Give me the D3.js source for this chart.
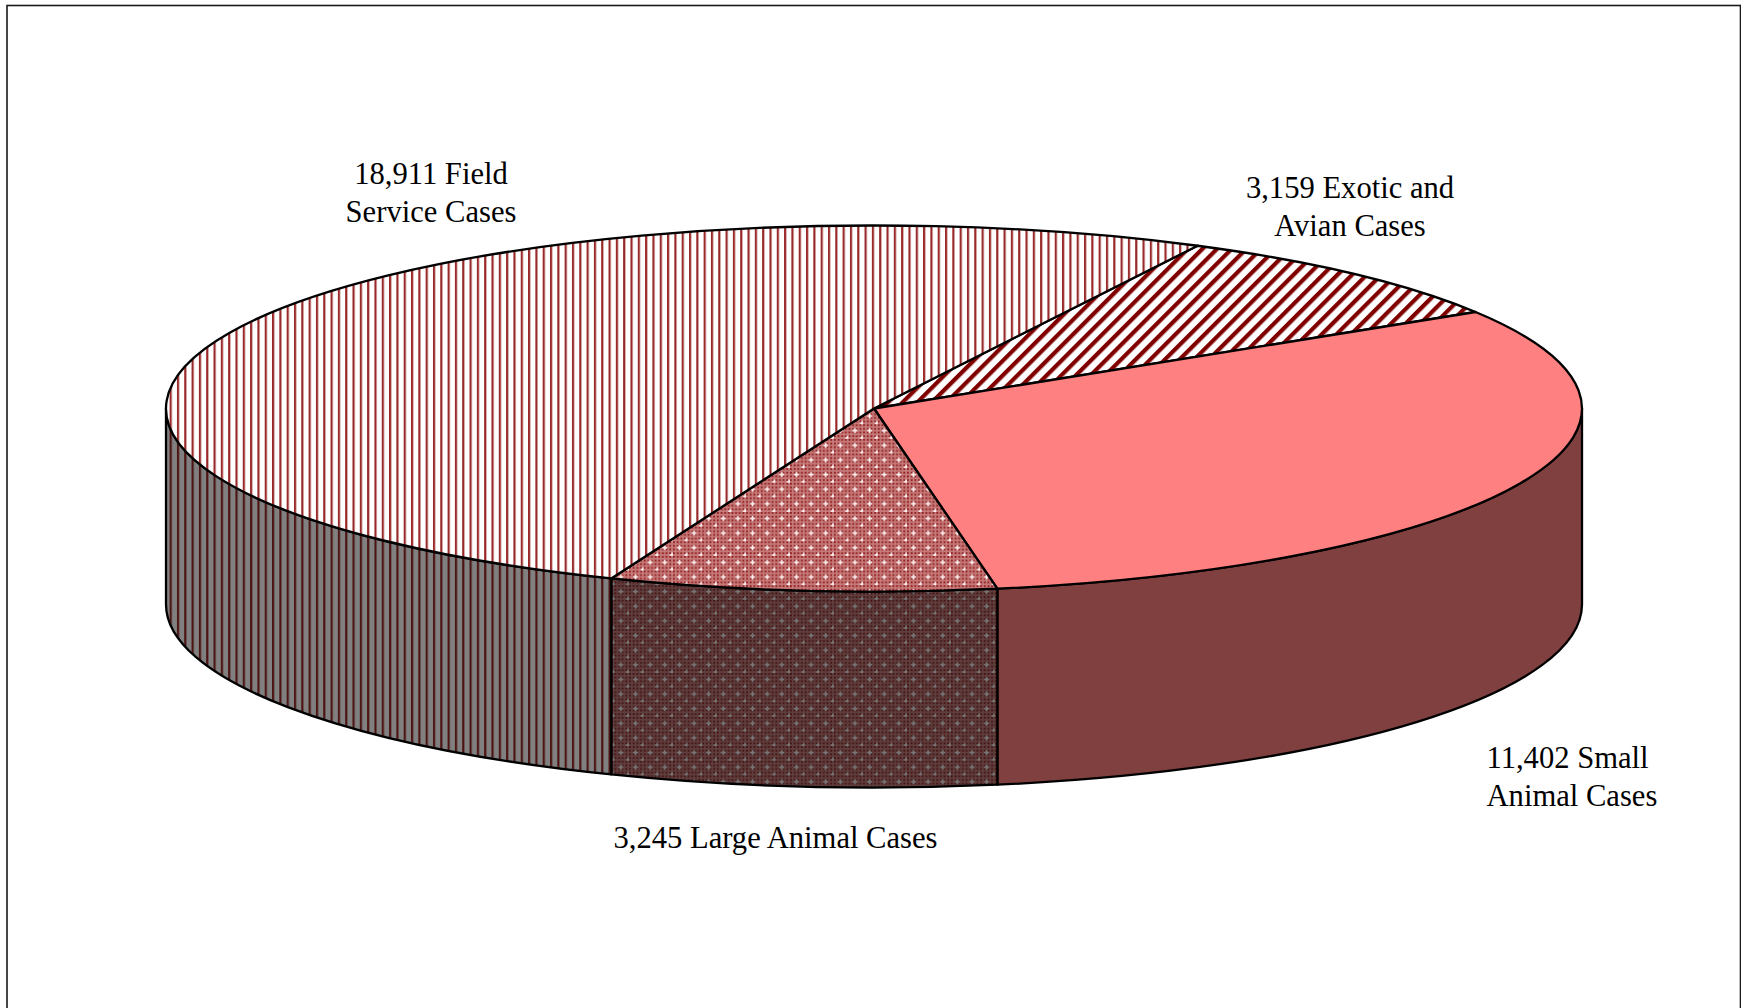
<!DOCTYPE html>
<html>
<head>
<meta charset="utf-8">
<script src="https://cdn.jsdelivr.net/npm/d3@7"></script>
<style>
  html, body { margin: 0; padding: 0; background: #fff; overflow: hidden; }
  svg { display: block; }
  text { font-family: "Liberation Serif", "Times New Roman", serif; font-size: 30.6px; fill: #000; }
</style>
</head>
<body>
<svg id="chart" width="1741" height="1008"></svg>
<script>
// slices clockwise, starting from the edge at the back right
const categories = ["Exotic and Avian", "Small Animal", "Large Animal", "Field Service"];
const caseCounts = [3159, 11402, 3245, 18911];
const labelLines = [
  ["3,159 Exotic and", "Avian Cases"],
  ["11,402 Small", "Animal Cases"],
  ["3,245 Large Animal Cases"],
  ["18,911 Field", "Service Cases"],
];

const width = 1741;
const height = 1008;
const cx = 874;
const cy = 408.5;
const rx = 708;
const ry = 183;
const depth = 196;
const startDeg = 27.2;
const hatch = 7.315;

const labelAnchor = ["middle", "start", "middle", "middle"];
const labelX = [1350, 1486.5, 775.5, 431];
const labelY = [198, 768, 848, 184];
const lineGap = 38;

const svg = d3.select("#chart");
const defs = svg.append("defs");

const xScale = d3.scaleLinear().domain([-1, 1]).range([cx - rx, cx + rx]);
const yScale = d3.scaleLinear().domain([-1, 1]).range([cy + ry, cy - ry]);
const px = (a) => xScale(Math.sin(a));
const py = (a) => yScale(Math.cos(a));

// d3.pie angles are clockwise from 12 o'clock, same as the sheet chart
const start = (startDeg * Math.PI) / 180;
const arcs = d3
  .pie()
  .sort(null)
  .startAngle(start)
  .endAngle(start + 2 * Math.PI)(caseCounts);

const makeStripes = (id, bg, ink) => {
  const p = defs
    .append("pattern")
    .attr("id", id)
    .attr("patternUnits", "userSpaceOnUse")
    .attr("x", 169.6)
    .attr("width", hatch)
    .attr("height", 8);
  p.append("rect").attr("width", hatch).attr("height", 8).attr("fill", bg);
  p.append("rect").attr("x", 0).attr("width", 2.2).attr("height", 8).attr("fill", ink);
};

const makeDiagonal = (id, bg, ink) => {
  const s = (hatch * 2) / Math.SQRT2;
  const p = defs
    .append("pattern")
    .attr("id", id)
    .attr("patternUnits", "userSpaceOnUse")
    .attr("width", s)
    .attr("height", s)
    .attr("patternTransform", "rotate(45)");
  p.append("rect").attr("width", s).attr("height", s).attr("fill", bg);
  p.append("rect").attr("width", 4.2).attr("height", s).attr("fill", ink);
};

const makeCheck = (id, bg, ink, plus) => {
  const t = hatch * 2;
  const u = t / 8;
  const p = defs
    .append("pattern")
    .attr("id", id)
    .attr("patternUnits", "userSpaceOnUse")
    .attr("width", t)
    .attr("height", t);
  p.append("rect").attr("width", t).attr("height", t).attr("fill", bg);
  d3.range(4).forEach((i) => {
    d3.range(4).forEach((j) => {
      p.append("rect")
        .attr("x", i * 2 * u)
        .attr("y", j * 2 * u)
        .attr("width", u)
        .attr("height", u)
        .attr("fill", ink);
    });
  });
  [[3, 3], [7, 7]].forEach(([i, j]) => {
    p.append("rect").attr("x", (i - 0.8) * u).attr("y", j * u + 0.1).attr("width", 2.6 * u).attr("height", u - 0.2).attr("fill", plus);
    p.append("rect").attr("x", i * u + 0.1).attr("y", (j - 0.8) * u).attr("width", u - 0.2).attr("height", 2.6 * u).attr("fill", plus);
  });
};

makeStripes("fieldTop", "#ffffff", "#9a2a2a");
makeStripes("fieldSide", "#808080", "#4d1414");
makeDiagonal("exoticTop", "#ffffff", "#800000");
makeCheck("largeTop", "#c67a7a", "#8f1c1c", "#fbeeee");
makeCheck("largeSide", "#5e3e3e", "#451010", "#787878");

const topFill = ["url(#exoticTop)", "#ff8080", "url(#largeTop)", "url(#fieldTop)"];
const sideFill = ["#804040", "#804040", "url(#largeSide)", "url(#fieldSide)"];

const topPath = (d) => {
  const large = d.endAngle - d.startAngle > Math.PI ? 1 : 0;
  return `M${cx},${cy}L${px(d.startAngle)},${py(d.startAngle)}A${rx},${ry} 0 ${large} 1 ${px(d.endAngle)},${py(d.endAngle)}Z`;
};

// only the front half of the rim shows, from 3 o'clock to 9 o'clock
const sidePath = (d) => {
  const a0 = Math.max(d.startAngle, Math.PI / 2);
  const a1 = Math.min(d.endAngle, (3 * Math.PI) / 2);
  if (a1 <= a0) return null;
  return (
    `M${px(a0)},${py(a0)}A${rx},${ry} 0 0 1 ${px(a1)},${py(a1)}` +
    `L${px(a1)},${py(a1) + depth}A${rx},${ry} 0 0 0 ${px(a0)},${py(a0) + depth}Z`
  );
};

svg
  .append("rect")
  .attr("x", 7)
  .attr("y", 5.5)
  .attr("width", 1733.5)
  .attr("height", height + 20)
  .attr("fill", "#fff")
  .attr("stroke", "#1a1a1a")
  .attr("stroke-width", 1.6);

const pieG = svg.append("g").attr("stroke", "#000").attr("stroke-width", 2.3).attr("stroke-linejoin", "round");

pieG
  .selectAll("path.side")
  .data(arcs.filter((d) => sidePath(d)))
  .join("path")
  .attr("class", "side")
  .attr("d", sidePath)
  .attr("fill", (d) => sideFill[d.index]);

pieG
  .selectAll("path.top")
  .data(arcs)
  .join("path")
  .attr("class", "top")
  .attr("d", topPath)
  .attr("fill", (d) => topFill[d.index]);

labelLines.forEach((lines, i) => {
  const t = svg
    .append("text")
    .attr("text-anchor", labelAnchor[i])
    .attr("data-category", categories[i]);
  lines.forEach((line, k) => {
    t.append("tspan").attr("x", labelX[i]).attr("y", labelY[i] + k * lineGap).text(line);
  });
});
</script>
</body>
</html>
